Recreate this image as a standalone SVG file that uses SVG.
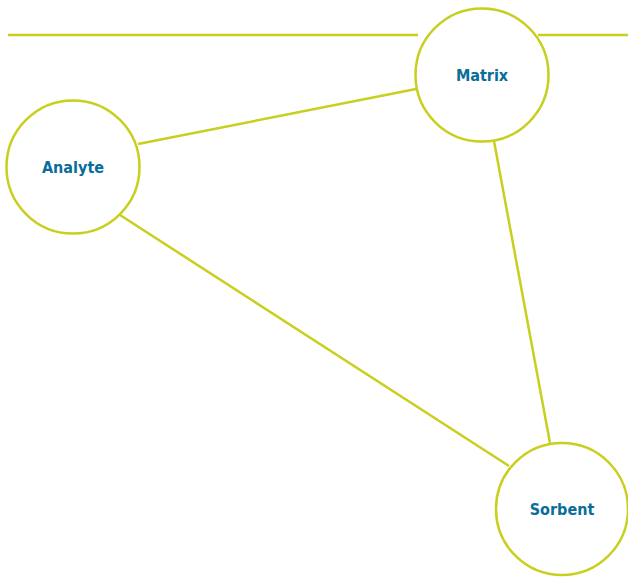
<svg xmlns="http://www.w3.org/2000/svg" width="628" height="577" viewBox="0 0 628 577">
<style>
.c{fill:#fff;stroke:#c8cf1e;stroke-width:2.5}
.l{stroke:#c8cf1e;stroke-width:2.5;fill:none}
.t{font-family:"DejaVu Sans Condensed","DejaVu Sans",sans-serif;font-stretch:condensed;font-weight:bold;font-size:16px;fill:#0a6d99;text-anchor:middle}
</style>
<rect width="628" height="577" fill="#fff"/>
<g id="connectors">
<line class="l" x1="8" y1="35" x2="418" y2="35"/>
<line class="l" x1="538" y1="35" x2="628" y2="35"/>
<line class="l" x1="138" y1="144" x2="416" y2="89"/>
<line class="l" x1="120" y1="215" x2="509" y2="466"/>
<line class="l" x1="494" y1="141" x2="550" y2="443"/>
</g>
<g id="matrix"><circle class="c" cx="482" cy="75" r="66.5"/><text class="t" x="482" y="81">Matrix</text></g>
<g id="analyte"><circle class="c" cx="73" cy="167" r="66.5"/><text class="t" x="73" y="173">Analyte</text></g>
<g id="sorbent"><circle class="c" cx="562" cy="509" r="66"/><text class="t" x="562" y="515">Sorbent</text></g>
</svg>
